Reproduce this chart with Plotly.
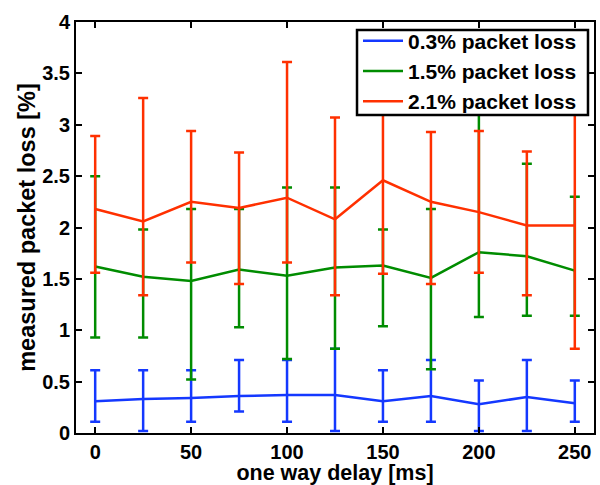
import plotly.graph_objects as go
import numpy as np

delay = [0, 25, 50, 75, 100, 125, 150, 175, 200, 225, 250]

loss03_mean = [0.31, 0.33, 0.34, 0.36, 0.37, 0.37, 0.31, 0.36, 0.28, 0.35, 0.29]
loss03_high = [0.61, 0.61, 0.61, 0.71, 0.71, 0.82, 0.61, 0.71, 0.51, 0.71, 0.51]
loss03_low = [0.11, 0.02, 0.11, 0.21, 0.11, 0.02, 0.11, 0.11, 0.02, 0.02, 0.11]

loss15_mean = [1.62, 1.52, 1.48, 1.59, 1.53, 1.61, 1.63, 1.51, 1.76, 1.72, 1.58]
loss15_high = [2.50, 1.98, 2.18, 2.18, 2.39, 2.39, 1.98, 2.18, 3.40, 2.62, 2.30]
loss15_low = [0.93, 0.93, 0.52, 1.03, 0.72, 0.82, 1.04, 0.62, 1.13, 1.14, 1.14]

loss21_mean = [2.18, 2.06, 2.25, 2.19, 2.29, 2.08, 2.46, 2.25, 2.15, 2.02, 2.02]
loss21_high = [2.89, 3.26, 2.94, 2.73, 3.61, 3.07, 3.40, 2.93, 2.94, 2.74, 3.20]
loss21_low = [1.56, 1.34, 1.66, 1.45, 1.66, 1.34, 1.55, 1.45, 1.56, 1.34, 0.82]

names = ["0.3% packet loss", "1.5% packet loss", "2.1% packet loss"]
colors = ["#1438ff", "#008c00", "#ff3000"]

fig = go.Figure()
for name, color, m, hi, lo in zip(
    names, colors,
    [loss03_mean, loss15_mean, loss21_mean],
    [loss03_high, loss15_high, loss21_high],
    [loss03_low, loss15_low, loss21_low],
):
    m = np.array(m); hi = np.array(hi); lo = np.array(lo)
    fig.add_trace(go.Scatter(
        x=delay, y=m, mode="lines", name=name,
        line=dict(color=color, width=2.5),
        error_y=dict(type="data", symmetric=False, array=hi - m, arrayminus=m - lo,
                     color=color, thickness=2.5, width=5),
    ))

FAM = "Liberation Sans, Arial, sans-serif"

# legend frame (white box hiding lines underneath, like the reference)
fig.add_shape(type="rect", xref="paper", yref="paper",
              x0=0.5425, x1=0.9884, y0=0.7737, y1=0.9805,
              fillcolor="white", line=dict(color="black", width=2.5), layer="above")

fig.update_layout(
    width=600, height=485,
    margin=dict(l=76, r=6, t=22, b=52),
    plot_bgcolor="white", paper_bgcolor="white",
    font=dict(family=FAM, size=20, color="black"),
    showlegend=True,
    legend=dict(x=0.5444, y=1.0037, xanchor="left", yanchor="top",
                bgcolor="rgba(0,0,0,0)", borderwidth=0,
                font=dict(family=FAM, size=21, color="black", weight="bold"),
                tracegroupgap=0, itemwidth=40),
    xaxis=dict(range=[-10, 260], tickvals=[0, 50, 100, 150, 200, 250],
               ticks="inside", ticklen=6, tickwidth=2, tickcolor="black",
               showline=True, linewidth=2, linecolor="black", mirror="ticks",
               showgrid=False, zeroline=False, automargin=False,
               tickfont=dict(family=FAM, size=20, weight="bold"),
               title=dict(text="<b>one way delay [ms]</b>", font=dict(family=FAM, size=21.5), standoff=2)),
    yaxis=dict(range=[0, 4], tickvals=[0, 0.5, 1, 1.5, 2, 2.5, 3, 3.5, 4],
               ticktext=["0", "0.5", "1", "1.5", "2", "2.5", "3", "3.5", "4"],
               ticks="inside", ticklen=6, tickwidth=2, tickcolor="black",
               showline=True, linewidth=2, linecolor="black", mirror="ticks",
               showgrid=False, zeroline=False, automargin=False,
               tickfont=dict(family=FAM, size=20, weight="bold"),
               title=dict(text="<b>measured packet loss [%]</b>", font=dict(family=FAM, size=23.5), standoff=0)),
)
fig.write_html("out.html", config={"displayModeBar": False},
               post_script="document.body.style.margin='0px';")
